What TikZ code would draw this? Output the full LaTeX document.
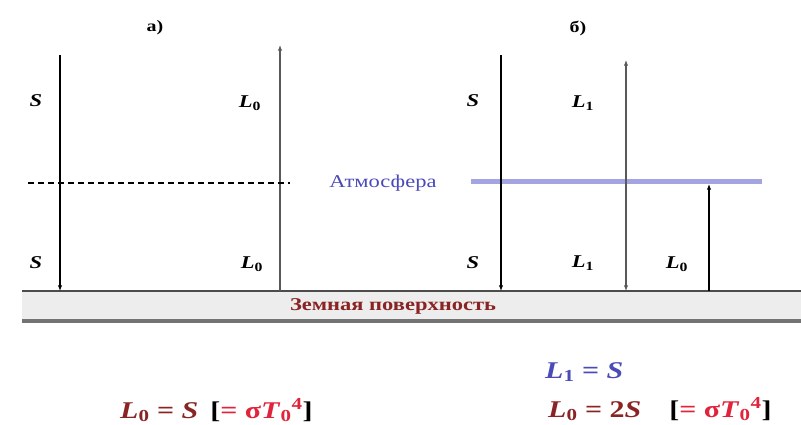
\documentclass[tikz,border=0pt]{standalone}
\usepackage{fontspec}
\setmainfont[FakeStretch=1.25]{Liberation Serif}
\usepackage{xcolor}
\usetikzlibrary{arrows.meta, positioning}
\definecolor{earthred}{HTML}{8A2424}
\definecolor{sigred}{HTML}{E0243C}
\definecolor{atmblue}{HTML}{4A4AB8}
\definecolor{atmline}{HTML}{A4A4E2}
\newcommand{\fluxL}[1]{\textbf{\textit{L}\textsubscript{#1}}}
\newcommand{\fluxS}{\textbf{\textit{S}}}
\tikzset{
  flux/.style={draw, line width=1.1pt, -{Latex[length=2mm, width=1.6mm]}},
  gflux/.style={flux, black!65},
  lbl/.style={font=\fontsize{18}{18}\selectfont, inner sep=0pt},
  panel/.style={font=\fontsize{16}{16}\selectfont\bfseries, inner sep=0pt},
  formula/.style={font=\fontsize{24}{24}\selectfont, inner sep=0pt, anchor=west},
  every node/.style={font=\small}
}
\begin{document}
\begin{tikzpicture}[x=1pt, y=-1pt]
    \useasboundingbox (0,0) rectangle (801,424);
    % ground
    \fill[black!7] (22,291) rectangle (801,321);
    \draw[black!70, line width=2.5pt] (22,291) -- (801,291);
    \draw[black!55, line width=3.5pt] (22,321) -- (801,321);
    \node[font=\fontsize{18}{18}\selectfont\bfseries, text=earthred, inner sep=0pt] (ground) at (393,306) {Земная поверхность};

    % panel a)
    \node[panel] (pa) at (155,28) {а)};
    \coordinate (aStop) at (60,55);
    \coordinate (aSbot) at (60,291);
    \coordinate (aLbot) at (280,291);
    \coordinate (aLtop) at (280,45);
    \draw[flux] (aStop) -- (aSbot);
    \draw[gflux] (aLbot) -- (aLtop);
    \draw[line width=1.1pt, dash pattern=on 6pt off 4pt] (28,183) coordinate (dashL) -- (290,183) coordinate (dashR);
    \node[lbl] (aS1) at (36,101) {\fluxS};
    \node[lbl] (aL1) at (250,103) {\fluxL{0}};
    \node[lbl] (aS2) at (36,263) {\fluxS};
    \node[lbl] (aL2) at (252,264) {\fluxL{0}};

    % atmosphere
    \node[font=\fontsize{18}{18}\selectfont, text=atmblue, inner sep=0pt] (atm) at (383,183) {Атмосфера};
    \draw[atmline, line width=5pt] (471,181) coordinate (atmL) -- (762,181) coordinate (atmR);

    % panel b)
    \node[panel] (pb) at (578,28) {б)};
    \coordinate (bStop) at (501,55);
    \coordinate (bSbot) at (501,291);
    \coordinate (bLmid) at (626,181);
    \coordinate (bLtop) at (626,60);
    \coordinate (bLbot) at (626,291);
    \coordinate (bGbot) at (709,291);
    \coordinate (bGtop) at (709,184);
    \draw[flux] (bStop) -- (bSbot);
    \draw[gflux] (bLmid) -- (bLtop);
    \draw[gflux] (bLmid) -- (bLbot);
    \draw[flux] (bGbot) -- (bGtop);
    \node[lbl] (bS1) at (473,101) {\fluxS};
    \node[lbl] (bL1) at (583,103) {\fluxL{1}};
    \node[lbl] (bS2) at (473,263) {\fluxS};
    \node[lbl] (bL2) at (583,263) {\fluxL{1}};
    \node[lbl] (bL0) at (677,264) {\fluxL{0}};

    % balance
    \node[formula] (eqa) at (120,410) {{\color{earthred}\fluxL{0} \textbf{=} \fluxS}\enspace\textbf{[}{\color{sigred}\textbf{= σ\textit{T}\textsubscript{0}\textsuperscript{4}}}\textbf{]}};
    \node[formula, text=atmblue] (eqb1) at (545,372) {\fluxL{1} \textbf{=} \fluxS};
    \node[formula] (eqb2) at (548,409) {{\color{earthred}\fluxL{0} \textbf{= 2\textit{S}}}\hspace{28pt}\textbf{[}{\color{sigred}\textbf{= σ\textit{T}\textsubscript{0}\textsuperscript{4}}}\textbf{]}};
\end{tikzpicture}
\end{document}
